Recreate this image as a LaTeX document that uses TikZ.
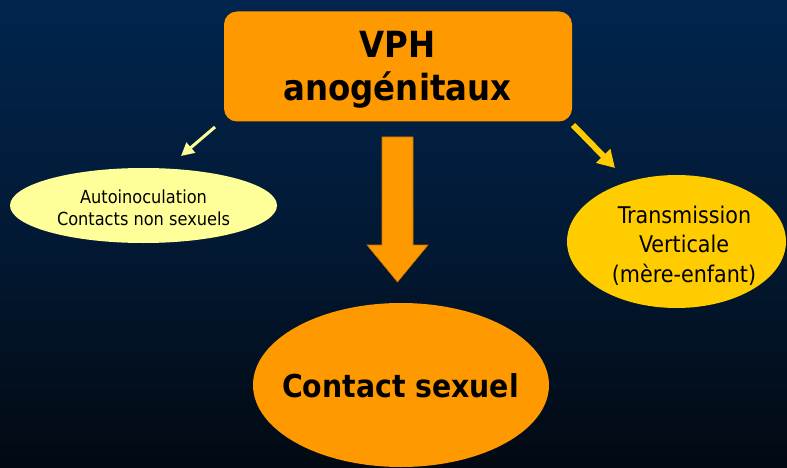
\documentclass[tikz,border=0pt]{standalone}
\usepackage{fontspec}
\newfontfamily\tah{DejaVu Sans Condensed}
\usetikzlibrary{arrows.meta,shapes.geometric}
\definecolor{bgtop}{RGB}{1,37,78}
\definecolor{bgmid}{RGB}{2,25,52}
\definecolor{bgbot}{RGB}{2,9,18}
\definecolor{vorange}{RGB}{255,153,0}
\definecolor{vorangedark}{RGB}{200,115,0}
\definecolor{paleyellow}{RGB}{255,255,153}
\definecolor{gold}{RGB}{255,204,0}
\tikzset{
  oval/.style={ellipse, inner sep=0pt, outer sep=0pt},
  label/.style={anchor=base, inner sep=0pt, text=black},
}
\begin{document}
\begin{tikzpicture}[x=1pt,y=-1pt]
\useasboundingbox (0,0) rectangle (787,468);
\shade[top color=bgtop, bottom color=bgbot, middle color=bgmid] (0,0) rectangle (787,468);
% top box
\node[fill=vorange, rounded corners=13pt, minimum width=348pt, minimum height=110pt, inner sep=0pt] (top) at (398,66.5) {};
\node[label, font=\tah\bfseries\fontsize{36}{42}\selectfont] (vph) at (397.5,58) {VPH};
\node[label, font=\tah\bfseries\fontsize{36}{42}\selectfont] (ano) at (397.5,101) {anogénitaux};
% ellipses
\node[oval, fill=paleyellow, minimum width=267pt, minimum height=75pt] (left) at (143.5,205.5) {};
\node[label, font=\tah\fontsize{18}{22}\selectfont] (l1) at (143.5,203) {Autoinoculation};
\node[label, font=\tah\fontsize{18}{22}\selectfont] (l2) at (143.5,225) {Contacts non sexuels};
\node[oval, fill=gold, minimum width=219pt, minimum height=133pt] (right) at (676.5,241.5) {};
\node[label, font=\tah\fontsize{23}{28}\selectfont] (r1) at (684.5,223) {Transmission};
\node[label, font=\tah\fontsize{23}{28}\selectfont] (r2) at (684,252) {Verticale};
\node[label, font=\tah\fontsize{23}{28}\selectfont] (r3) at (684,282) {(mère-enfant)};
\node[oval, fill=vorange, minimum width=296pt, minimum height=164pt] (bottom) at (401,385) {};
\node[label, font=\tah\bfseries\fontsize{31.5}{38}\selectfont] (cs) at (400.5,397) {Contact sexuel};
% big arrow
\draw[fill=vorange, draw=vorangedark, line width=0.6pt]
  (382,137) -- (413,137) -- (413,245) -- (428,245) -- (397.5,282) -- (367,245) -- (382,245) -- cycle;
% small arrows
\coordinate (la1) at (215,127);
\coordinate (la2) at (181,156);
\coordinate (ra1) at (573,125);
\coordinate (ra2) at (615,168);
\draw[paleyellow, line width=3pt, -{Triangle[length=13pt,width=13pt]}] (la1) -- (la2);
\draw[gold, line width=6pt, -{Triangle[length=17pt,width=19pt]}] (ra1) -- (ra2);
\end{tikzpicture}
\end{document}
